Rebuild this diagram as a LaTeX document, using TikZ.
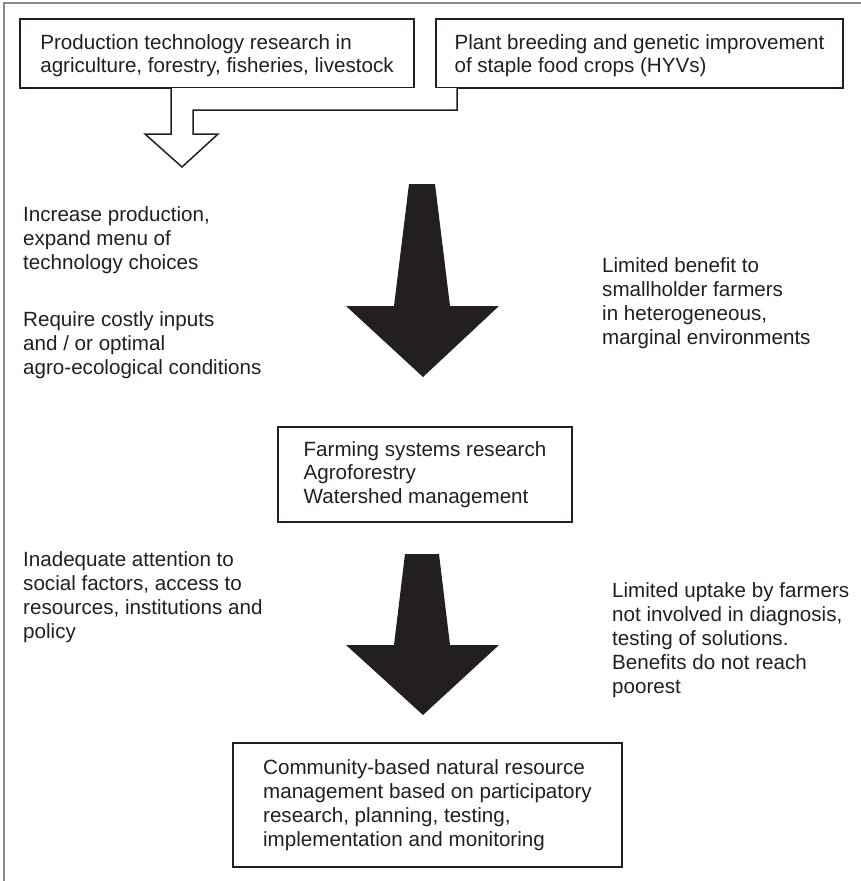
\documentclass[tikz,border=0pt]{standalone}
\usepackage{fontspec}
\setmainfont{Liberation Sans}
\definecolor{ink}{HTML}{231F20}
\definecolor{framegray}{HTML}{8C8C8C}
\begin{document}
\begin{tikzpicture}[x=1pt,y=-1pt,
  every node/.style={font=\fontsize{20.6pt}{23.8pt}\selectfont, text=ink},
  box/.style={draw=ink, line width=1.5pt, align=left, inner sep=0pt,
    outer sep=0pt, anchor=north west},
  % multi-line notes are placed by the baseline of their last line
  note/.style={align=left, anchor=base west, inner sep=0pt},
  bigarrow/.style={fill=ink, draw=none},
  outline/.style={draw=ink, line width=1.5pt, line join=miter, fill=white},
]
\useasboundingbox (0,0) rectangle (861,881);

% page frame (top and left rules only)
\draw[framegray, line width=1.3pt] (861,3) -- (4,3) -- (4,881);

% source boxes
\node[box, minimum width=394pt, minimum height=69pt, text depth=0pt] (b1) at (20,19)
  {Production technology research in\\agriculture, forestry, fisheries, livestock};
\node[box, minimum width=407pt, minimum height=69pt, text depth=0pt] (b2) at (436,19)
  {Plant breeding and genetic improvement\\of staple food crops (HYVs)};

% outlined merging arrow
\coordinate (hl) at (171,0);
\coordinate (hr) at (193,0);
\coordinate (c2) at (457,0);
\coordinate (htip) at (182,167);
\draw[outline] (b1.south -| hl) -- (171,134) -- (145,134) -- (htip)
  -- (218,134) -- (hr |- 0,134) -- (hr |- 0,110) -- (c2 |- 0,110) -- (b2.south -| c2);

% notes beside the first big arrow
\node[note] (n1) at (23,269.5) {Increase production,\\expand menu of\\technology choices};
\node[note] (n2) at (23,374) {Require costly inputs\\and / or optimal\\agro-ecological conditions};
\node[note] (n3) at (602,344) {Limited benefit to\\smallholder farmers\\in heterogeneous,\\marginal environments};

% first big arrow
\fill[bigarrow] (409,184) -- (435,184) -- (450,306) -- (499,306) -- (423,377)
  -- (346,306) -- (394,306) -- cycle;

% middle box
\node[box, minimum width=294pt, minimum height=95pt] (b3) at (278,427)
  {Farming systems research\\Agroforestry\\Watershed management};

% notes beside the second big arrow
\node[note] (n4) at (23,638) {Inadequate attention to\\social factors, access to\\resources, institutions and\\policy};
\node[note] (n5) at (612,693) {Limited uptake by farmers\\not involved in diagnosis,\\testing of solutions.\\Benefits do not reach\\poorest};

% second big arrow
\fill[bigarrow] (405,554) -- (439,554) -- (450,645) -- (499,645) -- (423,715)
  -- (346,645) -- (394,645) -- cycle;

% bottom box
\node[box, minimum width=389pt, minimum height=124pt] (b4) at (233,743)
  {Community-based natural resource\\management based on participatory\\research, planning, testing,\\implementation and monitoring};
\end{tikzpicture}
\end{document}
